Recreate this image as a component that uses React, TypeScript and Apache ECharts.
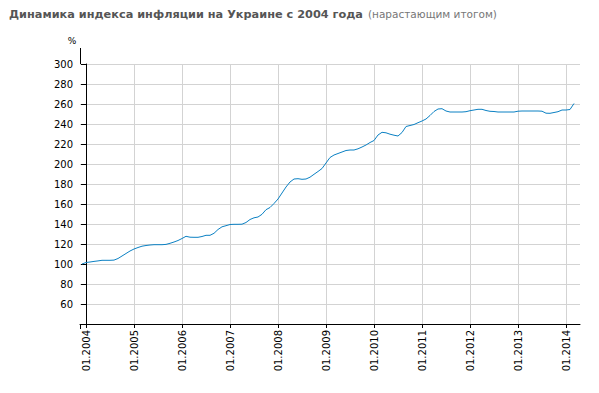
import React, { useEffect, useRef } from "react";
import * as echarts from "echarts";

// Cumulative inflation index, monthly, starting Dec 2003 (=100)
const startMonthIndex = -1; // Dec 2003 relative to Jan 2004
const inflationIndex: number[] = [
  100,
  101.5, 102, 102.6, 103.1, 103.7, 103.7, 103.7, 103.9, 105.5, 108, 110.5, 113,
  115, 116.5, 117.8, 118.5, 119, 119.3, 119.3, 119.3, 119.6, 120.7, 122, 123.5,
  125.5, 127.7, 126.8, 126.7, 126.7, 127.5, 128.7, 128.7, 130.7, 134.5, 137.2, 138.3,
  139.5, 139.7, 139.7, 139.8, 141.5, 144.5, 146.2, 147, 149.7, 154.3, 156.5, 160.5,
  165, 171, 177, 182, 185, 185.3, 184.7, 185, 186.8, 189.7, 192.5, 195.5,
  201, 206.5, 209, 210.5, 212, 213.5, 214, 214, 215.2, 217, 219, 221.5,
  223.5, 229, 231.7, 231.2, 229.8, 228.8, 228, 231.5, 237.5, 238.5, 239.5, 241.3,
  243, 245, 248.5, 252.5, 255, 255.3, 253, 252, 252, 252, 252, 252.3,
  253.3, 254, 254.7, 254.7, 253.5, 252.7, 252.5, 252, 252, 252, 252, 252,
  252.8, 253, 253, 253, 253, 253, 252.8, 250.8, 250.7, 251.5, 252.3, 254,
  254, 254.5, 260.5,
];

const yearLabels: string[] = [
  "01.2004", "01.2005", "01.2006", "01.2007", "01.2008", "01.2009",
  "01.2010", "01.2011", "01.2012", "01.2013", "01.2014",
];

const titleMain = "Динамика индекса инфляции на Украине с 2004 года";
const titleNote = "(нарастающим итогом)";

export default function App() {
  const ref = useRef<HTMLDivElement>(null);

  useEffect(() => {
    if (!ref.current) return;
    const chart = echarts.init(ref.current, null, { renderer: "svg" });
    const data = inflationIndex.map((v, i) => [i + startMonthIndex, v]);
    const tickValues = yearLabels.map((_, i) => i * 12);
    const font = "'DejaVu Sans', Verdana, sans-serif";

    chart.setOption({
      animation: false,
      backgroundColor: "#ffffff",
      title: {
        left: 9,
        top: 5,
        padding: 0,
        text: `{b|${titleMain}} {n|${titleNote}}`,
        textStyle: {
          fontWeight: "normal",
          rich: {
            b: { fontFamily: font, fontSize: 11.3, fontWeight: "bold", color: "#555555" },
            n: { fontFamily: font, fontSize: 10.5, fontWeight: "normal", color: "#777777" },
          },
        },
      },
      grid: { left: 80, right: 19, top: 64, bottom: 69, containLabel: false },
      xAxis: {
        type: "value",
        min: -1.5,
        max: 123.5,
        axisLine: { show: true, lineStyle: { color: "#000000", width: 1 } },
        axisTick: {
          show: true,
          length: 4,
          customValues: tickValues,
          lineStyle: { color: "#000000" },
        },
        axisLabel: {
          customValues: tickValues,
          rotate: 90,
          margin: 6,
          fontFamily: font,
          fontSize: 10,
          color: "#000000",
          formatter: (v: number) => yearLabels[Math.round(v / 12)] ?? "",
        },
        splitLine: { show: true, lineStyle: { color: "#d3d3d3", width: 1 } },
      },
      yAxis: {
        type: "value",
        min: 40,
        max: 300,
        interval: 20,
        axisLine: { show: true, lineStyle: { color: "#000000", width: 1 } },
        axisTick: { show: true, length: 5, lineStyle: { color: "#000000" } },
        axisLabel: {
          margin: 7,
          fontFamily: font,
          fontSize: 10,
          color: "#000000",
          formatter: (v: number) => (v === 40 ? "" : String(v)),
        },
        splitLine: { show: true, lineStyle: { color: "#d3d3d3", width: 1 } },
      },
      graphic: [
        {
          type: "line",
          shape: { x1: 80.5, y1: 48, x2: 80.5, y2: 64 },
          style: { stroke: "#000000", lineWidth: 1 },
          silent: true,
        },
        {
          type: "line",
          shape: { x1: 80.5, y1: 324, x2: 80.5, y2: 329 },
          style: { stroke: "#000000", lineWidth: 1 },
          silent: true,
        },
        {
          type: "text",
          x: 72,
          y: 41,
          style: {
            text: "%",
            fontFamily: font,
            fontSize: 9,
            fill: "#000000",
            align: "center",
            verticalAlign: "middle",
          },
          silent: true,
        },
      ],
      series: [
        {
          type: "line",
          data,
          showSymbol: false,
          symbol: "none",
          lineStyle: { color: "#0b80c3", width: 1 },
          itemStyle: { color: "#0b80c3" },
          z: 3,
        },
      ],
    });

    return () => chart.dispose();
  }, []);

  return (
    <div
      ref={ref}
      style={{ width: 599, height: 393, position: "absolute", left: 0, top: 0 }}
    />
  );
}
